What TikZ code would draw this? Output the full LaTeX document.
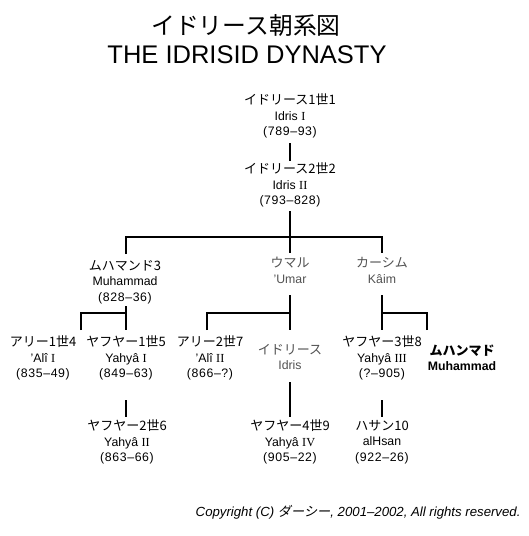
\documentclass[tikz,border=0pt]{standalone}
\usepackage{fontspec}
\setmainfont{Liberation Sans}
\newfontfamily\jp{Noto Sans CJK JP}
\newfontfamily\jpit[FakeSlant=0.2]{Noto Sans CJK JP}
\newfontfamily\rmn{Liberation Serif}
\newfontfamily\dates[LetterSpace=5]{Liberation Sans}
\newcommand\RN[1]{{\rmn #1}}
\newcommand\who[3]{{\jp\fontsize{13}{15.5}\selectfont #1}\\#2\\{\dates #3}}
\newcommand\whotwo[2]{{\jp\fontsize{13}{15.5}\selectfont #1}\\#2}
\begin{document}
\begin{tikzpicture}[x=1pt,y=-1pt,
  person/.style={align=center, inner sep=0pt, font=\fontsize{12.3}{15.5}\selectfont},
  minor/.style={person, text=black!68},
  strong/.style={person, font=\fontsize{12.3}{15.5}\selectfont\bfseries},
  link/.style={line width=2.2pt, line join=miter}]
\path[fill=white, use as bounding box] (0,0) rectangle (529,536);

% titles
\node[font=\jp\fontsize{23.8}{26}\selectfont] (t1) at (246,25) {イドリース朝系図};
\node[font=\fontsize{25.5}{28}\selectfont] (t2) at (247,55) {THE IDRISID DYNASTY};

% people
\node[person] (i1) at (290,116) {\who{イドリース1世1}{Idris \RN{I}}{(789–93)}};
\node[person] (i2) at (290,185) {\who{イドリース2世2}{Idris \RN{II}}{(793–828)}};
\node[person] (m3) at (125,282) {\who{ムハマンド3}{Muhammad}{(828–36)}};
\node[minor] (um) at (290,270.5) {\whotwo{ウマル}{'Umar}};
\node[minor] (ka) at (382,270.5) {\whotwo{カーシム}{Kâim}};
\node[person] (a4) at (43,358) {\who{アリー1世4}{'Alî \RN{I}}{(835–49)}};
\node[person] (y5) at (126,358) {\who{ヤフヤー1世5}{Yahyâ \RN{I}}{(849–63)}};
\node[person] (a7) at (210,358) {\who{アリー2世7}{'Alî \RN{II}}{(866–?)}};
\node[minor] (id) at (290,357) {\whotwo{イドリース}{Idris}};
\node[person] (y8) at (382,358) {\who{ヤフヤー3世8}{Yahyâ \RN{III}}{(?–905)}};
\node[strong] (mu) at (462,358) {\whotwo{ムハンマド}{Muhammad}};
\node[person] (y6) at (127,442) {\who{ヤフヤー2世6}{Yahyâ \RN{II}}{(863–66)}};
\node[person] (y9) at (290,442) {\who{ヤフヤー4世9}{Yahyâ \RN{IV}}{(905–22)}};
\node[person] (h10) at (382,442) {\who{ハサン10}{alHsan}{(922–26)}};

\node[anchor=mid east, font=\fontsize{13.2}{15}\selectfont\itshape] (cr) at (524,514)
  {Copyright (C) {\jpit ダーシー}, 2001–2002, All rights reserved.};

% connector ends and junctions
\coordinate (i1b) at (290,143); \coordinate (i2t) at (290,161);
\coordinate (i2b) at (290,211); \coordinate (bar1) at (290,237);
\coordinate (m3t) at (126,254); \coordinate (umt) at (290,253); \coordinate (kat) at (382,253);
\coordinate (m3b) at (126,306); \coordinate (m3j) at (126,313);
\coordinate (a4t) at (81,330);  \coordinate (y5t) at (126,330);
\coordinate (umb) at (290,295); \coordinate (umj) at (290,313);
\coordinate (a7t) at (207,330); \coordinate (idt) at (290,330);
\coordinate (kab) at (382,295); \coordinate (kaj) at (382,313);
\coordinate (y8t) at (382,330); \coordinate (mut) at (427,330);
\coordinate (y5b) at (126,400); \coordinate (y6t) at (126,417);
\coordinate (idb) at (290,382); \coordinate (y9t) at (290,417);
\coordinate (y8b) at (382,400); \coordinate (h10t) at (382,417);

% connectors
\draw[link] (i1b) -- (i2t);
\draw[link] (i2b) -- (bar1);
\draw[link] (m3t) |- (bar1) -| (kat);
\draw[link] (bar1) -- (umt);
\draw[link] (m3b) -- (y5t);
\draw[link] (a4t) |- (m3j);
\draw[link] (umb) -- (idt);
\draw[link] (a7t) |- (umj);
\draw[link] (kab) -- (y8t);
\draw[link] (mut) |- (kaj);
\draw[link] (y5b) -- (y6t);
\draw[link] (idb) -- (y9t);
\draw[link] (y8b) -- (h10t);
\end{tikzpicture}
\end{document}
